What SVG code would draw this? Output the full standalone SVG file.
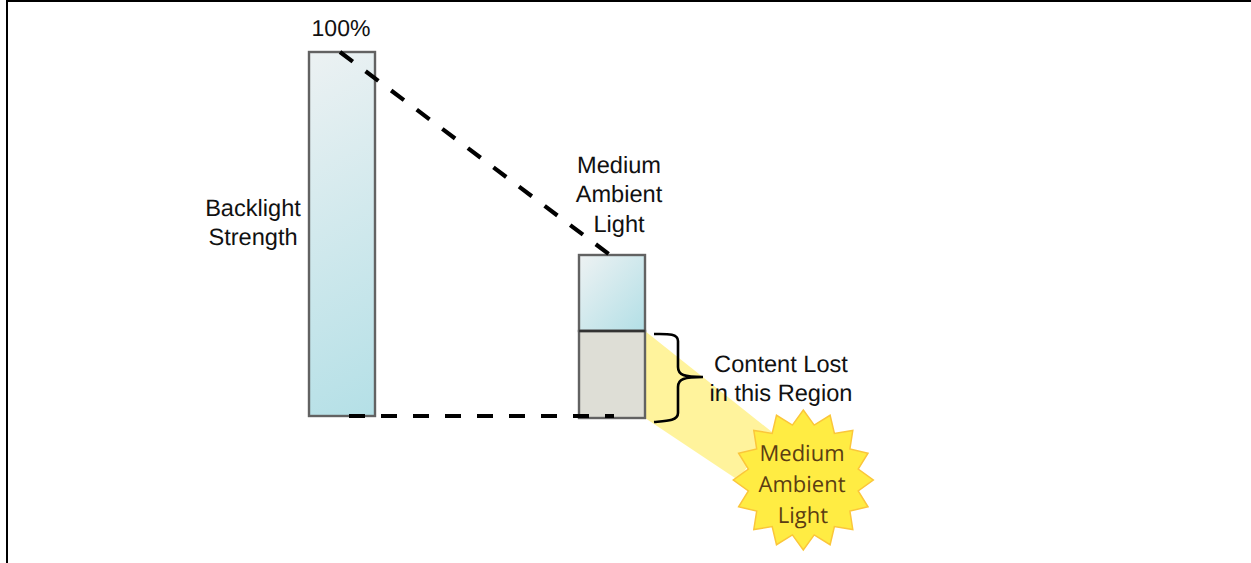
<svg xmlns="http://www.w3.org/2000/svg" width="1251" height="563" viewBox="0 0 1251 563">
<defs>
<linearGradient id="bar" gradientUnits="objectBoundingBox" x1="0" y1="0" x2="1" y2="1"><stop offset="0" stop-color="#eef2f3"/><stop offset="1" stop-color="#b2dfe6"/></linearGradient>
<linearGradient id="tall" gradientUnits="userSpaceOnUse" x1="250" y1="70" x2="430" y2="400"><stop offset="0" stop-color="#eef2f3"/><stop offset="1" stop-color="#b2dfe6"/></linearGradient>
</defs>
<style>
text{font-family:"Liberation Sans",Arial,sans-serif;font-size:23.6px;fill:#111;text-anchor:middle;text-rendering:geometricPrecision}
.box{stroke:#626262;stroke-width:2.4}
.dash{fill:none;stroke:#000;stroke-width:4.2;stroke-dasharray:16 16}
text.star{font-family:"Open Sans","Noto Sans",sans-serif;fill:#5b3d12;font-size:22px}
</style>
<rect width="1251" height="563" fill="#fff"/>
<path d="M7 563V1H1251" fill="none" stroke="#000" stroke-width="2"/>
<g id="beam"><polygon points="645,331 772,432 738,480 645,418" fill="#fff39c"/></g>
<g id="tall-bar"><rect class="box" x="309" y="52" width="66" height="364" fill="url(#tall)"/></g>
<g id="medium-bar"><rect class="box" x="579" y="255" width="66" height="76" fill="url(#bar)"/></g>
<g id="lost-region"><rect class="box" x="579" y="331" width="66" height="87" fill="#deded6"/><path d="M579 331H645" stroke="#333" stroke-width="2.4"/></g>
<g id="connectors">
<path class="dash" d="M340 52 L610 255"/>
<path class="dash" d="M349 416 H614"/>
<path id="brace" d="M654 334 C666 334 678 333 678 341 V367 C678 375 684 377 703 377 C684 377 678 379 678 387 V413 C678 421 666 421 654 422" fill="none" stroke="#000" stroke-width="2.6"/>
</g>
<g id="sun"><polygon transform="translate(803.3 480)" points="0,-70 10.9,-54.9 26.8,-64.7 31.1,-46.6 49.5,-49.5 46.6,-31.1 64.7,-26.8 54.9,-10.9 70,0 54.9,10.9 64.7,26.8 46.6,31.1 49.5,49.5 31.1,46.6 26.8,64.7 10.9,54.9 0,70 -10.9,54.9 -26.8,64.7 -31.1,46.6 -49.5,49.5 -46.6,31.1 -64.7,26.8 -54.9,10.9 -70,0 -54.9,-10.9 -64.7,-26.8 -46.6,-31.1 -49.5,-49.5 -31.1,-46.6 -26.8,-64.7 -10.9,-54.9" fill="#ffec43" stroke="#fbc63a" stroke-width="1.5"/>
<text class="star" x="802" y="461">Medium</text><text class="star" x="802" y="492">Ambient</text><text class="star" x="803" y="523">Light</text></g>
<g id="labels">
<text x="341" y="36" style="font-size:23px">100%</text>
<text x="253" y="216">Backlight</text><text x="253" y="245">Strength</text>
<text x="619" y="173">Medium</text><text x="619" y="202">Ambient</text><text x="619" y="232">Light</text>
<text x="781" y="372">Content Lost</text><text x="781" y="401">in this Region</text>
</g>
</svg>
